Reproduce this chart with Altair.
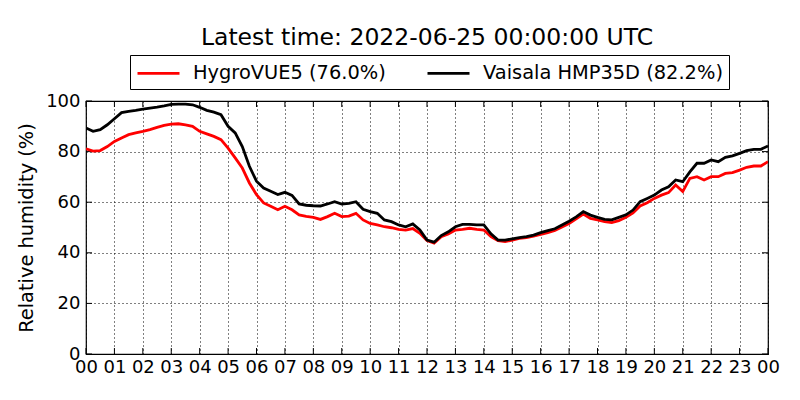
import altair as alt
import pandas as pd

# time in hours since 2022-06-24 00:00 UTC, 15-minute steps
hours = [i * 0.25 for i in range(97)]

vaisala = [
    89.3, 88.0, 88.7, 90.6, 93.0, 95.4, 95.9, 96.3, 96.8, 97.2, 97.6, 98.1,
    98.7, 98.8, 98.8, 98.5, 97.5, 96.3, 95.6, 94.6, 90.0, 87.4, 82.0, 74.2,
    68.3, 65.6, 64.3, 63.0, 63.9, 62.7, 59.3, 58.8, 58.6, 58.5, 59.3, 60.2,
    59.3, 59.5, 60.2, 57.2, 56.3, 55.6, 53.0, 52.3, 51.0, 50.3, 51.4, 49.0,
    45.0, 44.2, 46.8, 48.3, 50.3, 51.2, 51.2, 51.0, 51.0, 47.5, 45.0, 45.0,
    45.5, 46.0, 46.4, 47.0, 48.0, 48.8, 49.5, 51.0, 52.5, 54.2, 56.3, 54.9,
    54.0, 53.2, 53.0, 54.0, 55.0, 56.9, 60.2, 61.5, 62.8, 64.8, 66.1, 68.8,
    68.1, 72.0, 75.4, 75.4, 76.7, 76.0, 77.7, 78.3, 79.3, 80.4, 80.9, 80.9,
    82.2,
]

hygrovue = [
    81.1, 80.2, 80.4, 82.0, 84.0, 85.4, 86.7, 87.4, 88.0, 88.7, 89.6, 90.4,
    90.9, 91.0, 90.6, 90.0, 88.0, 87.0, 86.0, 84.7, 81.4, 77.5, 73.5, 67.6,
    63.0, 59.7, 58.4, 57.0, 58.4, 57.0, 55.0, 54.4, 54.0, 53.2, 54.3, 55.6,
    54.3, 54.5, 55.6, 53.0, 51.6, 51.0, 50.3, 49.9, 49.3, 49.0, 49.6, 47.7,
    44.8, 43.8, 46.4, 47.4, 49.0, 49.3, 49.7, 49.3, 49.0, 46.4, 44.8, 44.4,
    45.0, 45.7, 46.0, 46.6, 47.3, 48.0, 48.8, 50.2, 51.6, 53.4, 55.3, 53.6,
    53.0, 52.3, 51.9, 52.7, 54.0, 55.8, 58.5, 59.8, 61.5, 62.8, 63.8, 66.8,
    64.2, 69.4, 70.1, 68.8, 70.1, 70.1, 71.4, 71.7, 72.7, 73.8, 74.3, 74.3,
    76.0,
]

series_names = ["HygroVUE5 (76.0%)", "Vaisala HMP35D (82.2%)"]
series_colors = ["#ff0000", "#000000"]
x_ticks = list(range(25))
y_ticks = [0, 20, 40, 60, 80, 100]
title_text = "Latest time: 2022-06-25 00:00:00 UTC"

df = pd.concat([
    pd.DataFrame({"hour": hours, "rh": hygrovue, "sensor": series_names[0]}),
    pd.DataFrame({"hour": hours, "rh": vaisala, "sensor": series_names[1]}),
])
xt_df = pd.DataFrame({"hour": x_ticks})
yt_df = pd.DataFrame({"rh": y_ticks})

FONT = "DejaVu Sans"
W, H = 682, 253

x_axis = alt.Axis(
    values=x_ticks,
    labelExpr="datum.value == 24 ? '00' : (datum.value < 10 ? '0' + datum.value : '' + datum.value)",
    title=None,
    labelPadding=4,
    labelOverlap=False,
    labelFlush=False,
)
y_axis = alt.Axis(values=y_ticks, title="Relative humidity (%)", labelPadding=6,
                  titlePadding=9, labelOverlap=False, labelFlush=False)
x_scale = alt.Scale(domain=[0, 24], nice=False, zero=False)
y_scale = alt.Scale(domain=[0, 100], nice=False)


def xe():
    return alt.X("hour:Q", scale=x_scale, axis=x_axis)


def ye():
    return alt.Y("rh:Q", scale=y_scale, axis=y_axis)


lines = alt.Chart(df).mark_line(strokeWidth=2.8, clip=True).encode(
    x=xe(),
    y=ye(),
    color=alt.Color(
        "sensor:N",
        scale=alt.Scale(domain=series_names, range=series_colors),
        legend=alt.Legend(
            title=None,
            orient="none",
            legendX=44,
            legendY=-46,
            direction="horizontal",
            symbolType="M-1,0H3",
            symbolSize=441,
            symbolStrokeWidth=2.8,
            labelFontSize=19.4,
            labelFont=FONT,
            labelColor="black",
            labelOffset=33,
            labelLimit=0,
            columnPadding=35,
            strokeColor="black",
            fillColor="white",
            padding=6,
            cornerRadius=0,
        ),
    ),
)

# inward tick marks on all four sides (matplotlib classic style)
tick_style = dict(color="black", thickness=1, size=6, opacity=1)
xt_bottom = alt.Chart(xt_df).mark_tick(orient="vertical", **tick_style).encode(
    x=xe(), y=alt.value(H - 3))
xt_top = alt.Chart(xt_df).mark_tick(orient="vertical", **tick_style).encode(
    x=xe(), y=alt.value(3))
yt_left = alt.Chart(yt_df).mark_tick(orient="horizontal", **tick_style).encode(
    y=ye(), x=alt.value(3))
yt_right = alt.Chart(yt_df).mark_tick(orient="horizontal", **tick_style).encode(
    y=ye(), x=alt.value(W - 3))

chart = alt.layer(xt_bottom, xt_top, yt_left, yt_right, lines).properties(
    width=W,
    height=H,
    title=alt.TitleParams(
        title_text, fontSize=23.5, font=FONT, fontWeight="normal", color="black",
        anchor="middle", offset=5,
    ),
    autosize=alt.AutoSizeParams(type="none"),
    padding={"left": 78, "top": 93, "right": 24, "bottom": 38},
    background="white",
).configure_view(
    stroke="black", strokeWidth=1.2,
).configure_axis(
    labelFont=FONT, labelFontSize=18, labelColor="black",
    titleFont=FONT, titleFontSize=19.4, titleFontWeight="normal", titleColor="black",
    grid=True, gridColor="black", gridDash=[1, 3], gridOpacity=1, gridWidth=1,
    ticks=False, domain=False,
)

chart.save("out.html", embed_options={"renderer": "svg", "actions": False})
